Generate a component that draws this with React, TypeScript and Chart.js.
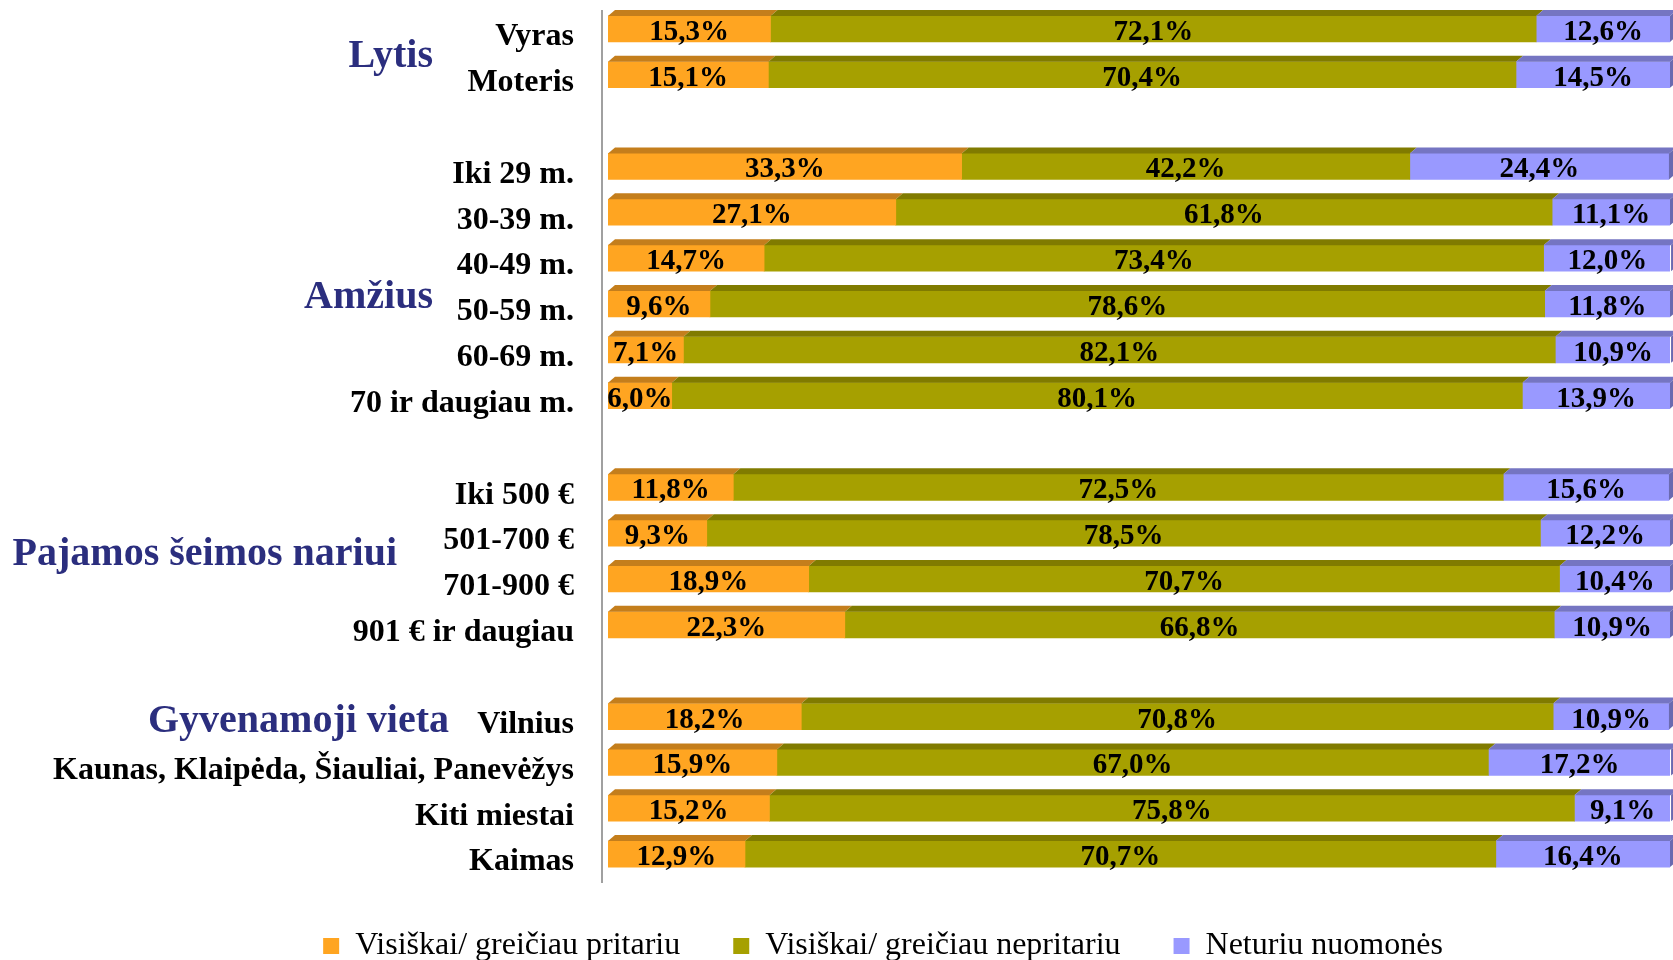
import React, { useEffect, useRef } from 'react';
import { Chart, registerables } from 'chart.js';

Chart.register(...registerables);

// ---------- DATA ----------
const categories = [
  'Vyras',
  'Moteris',
  '',
  'Iki 29 m.',
  '30-39 m.',
  '40-49 m.',
  '50-59 m.',
  '60-69 m.',
  '70 ir daugiau m.',
  '',
  'Iki 500 €',
  '501-700 €',
  '701-900 €',
  '901 € ir daugiau',
  '',
  'Vilnius',
  'Kaunas, Klaipėda, Šiauliai, Panevėžys',
  'Kiti miestai',
  'Kaimas',
];

const seriesNames = [
  'Visiškai/ greičiau pritariu',
  'Visiškai/ greičiau nepritariu',
  'Neturiu nuomonės',
];

const agree = [15.3, 15.1, null, 33.3, 27.1, 14.7, 9.6, 7.1, 6.0, null, 11.8, 9.3, 18.9, 22.3, null, 18.2, 15.9, 15.2, 12.9];
const disagree = [72.1, 70.4, null, 42.2, 61.8, 73.4, 78.6, 82.1, 80.1, null, 72.5, 78.5, 70.7, 66.8, null, 70.8, 67.0, 75.8, 70.7];
const noOpinion = [12.6, 14.5, null, 24.4, 11.1, 12.0, 11.8, 10.9, 13.9, null, 15.6, 12.2, 10.4, 10.9, null, 10.9, 17.2, 9.1, 16.4];

const groupTitles = ['Lytis', 'Amžius', 'Pajamos šeimos nariui', 'Gyvenamoji vieta'];

// ---------- STYLE / LAYOUT ----------
const FACE = ['#FFA521', '#A6A000', '#9999FF'];
const TOP = ['#C47E1C', '#807B00', '#7575C2'];
const SIDE = '#6A6AB0';
const SERIF = "'Liberation Serif', 'Times New Roman', Times, serif";
const DX = 7;
const DY = 6;
const LEGEND_SHIFT = 28;

// anchor rows (first,last), right edge x, baseline offset from anchor centre
const GROUP_LAYOUT = [
  { rows: [0, 1], right: 433, dy: 15 },
  { rows: [3, 8], right: 433, dy: 27 },
  { rows: [10, 13], right: 397, dy: 9 },
  { rows: [15, 15], right: 449, dy: 15 },
];

const fmt = (v: number) => v.toFixed(1).replace('.', ',') + '%';

const bar3dPlugin = {
  id: 'bar3d',
  afterLayout(chart: any) {
    if (chart.legend) {
      chart.legend.left += LEGEND_SHIFT;
      chart.legend.right += LEGEND_SHIFT;
    }
  },
  beforeDatasetsDraw(chart: any) {
    const { ctx, chartArea } = chart;
    ctx.save();
    ctx.strokeStyle = '#A0A0A0';
    ctx.lineWidth = 2;
    ctx.beginPath();
    ctx.moveTo(chartArea.left - 6, chartArea.top + 4);
    ctx.lineTo(chartArea.left - 6, chartArea.bottom + 6);
    ctx.stroke();
    ctx.restore();
  },
  afterDatasetsDraw(chart: any) {
    const { ctx } = chart;
    const n = chart.data.datasets.length;
    ctx.save();
    chart.data.datasets.forEach((ds: any, di: number) => {
      const meta = chart.getDatasetMeta(di);
      meta.data.forEach((el: any, i: number) => {
        const v = ds.data[i];
        if (v == null) return;
        const { x, y, base, height } = el.getProps(['x', 'y', 'base', 'height'], true);
        const top = y - height / 2;
        const bottom = y + height / 2;
        const left = Math.min(x, base);
        const right = Math.max(x, base);
        ctx.fillStyle = TOP[di];
        ctx.beginPath();
        ctx.moveTo(left, top);
        ctx.lineTo(right, top);
        ctx.lineTo(right + DX, top - DY);
        ctx.lineTo(left + DX, top - DY);
        ctx.closePath();
        ctx.fill();
        if (di === n - 1) {
          ctx.fillStyle = SIDE;
          ctx.beginPath();
          ctx.moveTo(right, top);
          ctx.lineTo(right + DX, top - DY);
          ctx.lineTo(right + DX, bottom - DY);
          ctx.lineTo(right, bottom);
          ctx.closePath();
          ctx.fill();
        }
      });
    });
    // data labels
    ctx.fillStyle = '#000';
    ctx.font = `bold 29px ${SERIF}`;
    ctx.textAlign = 'center';
    ctx.textBaseline = 'alphabetic';
    chart.data.datasets.forEach((ds: any, di: number) => {
      const meta = chart.getDatasetMeta(di);
      meta.data.forEach((el: any, i: number) => {
        const v = ds.data[i];
        if (v == null) return;
        const { x, y, base } = el.getProps(['x', 'y', 'base'], true);
        ctx.fillText(fmt(v), (x + base) / 2, y + 11);
      });
    });
    ctx.restore();
  },
  afterDraw(chart: any) {
    const { ctx } = chart;
    const yScale = chart.scales.y;
    ctx.save();
    ctx.fillStyle = '#2B2E7E';
    ctx.font = `bold 40px ${SERIF}`;
    ctx.textAlign = 'right';
    ctx.textBaseline = 'alphabetic';
    groupTitles.forEach((t, gi) => {
      const g = GROUP_LAYOUT[gi];
      const yc = (yScale.getPixelForValue(g.rows[0]) + yScale.getPixelForValue(g.rows[1])) / 2;
      ctx.fillText(t, g.right, yc + g.dy);
    });
    ctx.restore();
  },
};

export default function App() {
  const canvasRef = useRef<HTMLCanvasElement | null>(null);

  useEffect(() => {
    if (!canvasRef.current) return;
    const series = [agree, disagree, noOpinion];
    const chart = new Chart(canvasRef.current, {
      type: 'bar',
      data: {
        labels: categories,
        datasets: series.map((d, i) => ({
          label: seriesNames[i],
          data: d,
          backgroundColor: FACE[i],
          borderWidth: 0,
          barThickness: 26,
        })),
      },
      options: {
        indexAxis: 'y',
        responsive: true,
        maintainAspectRatio: false,
        animation: false,
        layout: { padding: { left: 40, right: 3, top: 6, bottom: -12 } },
        scales: {
          x: {
            stacked: true,
            min: 0,
            max: 100,
            display: false,
          },
          y: {
            stacked: true,
            grid: { display: false, drawTicks: false },
            border: { display: false },
            afterFit: (scale: any) => {
              scale.width = 568;
              scale.paddingTop = 0;
              scale.paddingBottom = 0;
            },
            ticks: {
              autoSkip: false,
              padding: 34,
              labelOffset: 8,
              color: '#000',
              font: { family: SERIF, size: 32, weight: 'bold' },
            },
          },
        },
        plugins: {
          tooltip: { enabled: false },
          legend: {
            position: 'bottom',
            labels: {
              boxWidth: 16,
              boxHeight: 16,
              padding: 53,
              color: '#000',
              font: { family: SERIF, size: 32 },
            },
          },
        },
      },
      plugins: [bar3dPlugin],
    });
    return () => chart.destroy();
  }, []);

  return (
    <div style={{ position: 'absolute', left: 0, top: 0, width: 1673, height: 960 }}>
      <canvas ref={canvasRef} />
    </div>
  );
}
